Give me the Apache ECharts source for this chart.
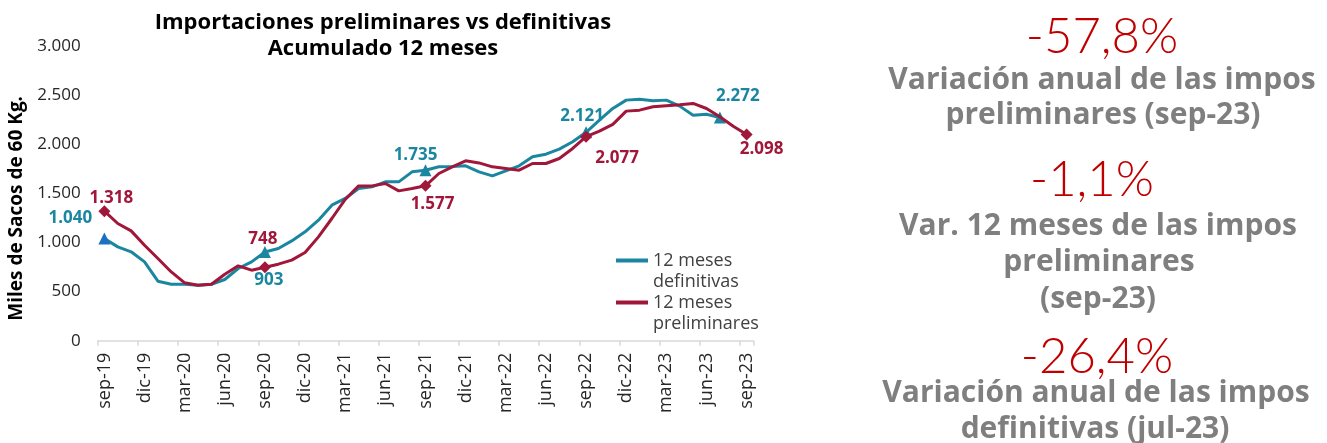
<!DOCTYPE html>
<html>
<head>
<meta charset="utf-8">
<script src="https://cdn.jsdelivr.net/npm/echarts@6/dist/echarts.min.js"></script>
<style>
html, body { margin: 0; padding: 0; background: #fff; }
#chart { width: 1327px; height: 443px; }
</style>
</head>
<body>
<div id="chart"></div>
<script>
var months = ['sep-19','oct-19','nov-19','dic-19','ene-20','feb-20','mar-20','abr-20','may-20','jun-20','jul-20','ago-20',
    'sep-20','oct-20','nov-20','dic-20','ene-21','feb-21','mar-21','abr-21','may-21','jun-21','jul-21','ago-21',
    'sep-21','oct-21','nov-21','dic-21','ene-22','feb-22','mar-22','abr-22','may-22','jun-22','jul-22','ago-22',
    'sep-22','oct-22','nov-22','dic-22','ene-23','feb-23','mar-23','abr-23','may-23','jun-23','jul-23','ago-23','sep-23'];

// 12 meses definitivas (hasta jul-23)
var definitivas = [1040, 955, 905, 802, 606, 575, 575, 565, 575, 623, 735, 802,
    903, 939, 1016, 1108, 1227, 1380, 1448, 1550, 1566, 1617, 1617, 1719,
    1735, 1770, 1773, 1780, 1719, 1678, 1729, 1780, 1872, 1899, 1950, 2025,
    2121, 2245, 2364, 2449, 2459, 2442, 2449, 2388, 2296, 2306, 2272];

// 12 meses preliminares
var preliminares = [1318, 1193, 1118, 972, 837, 700, 589, 565, 575, 677, 762, 718,
    748, 779, 820, 898, 1057, 1244, 1438, 1576, 1576, 1600, 1525, 1550,
    1577, 1702, 1770, 1831, 1810, 1770, 1753, 1736, 1804, 1804, 1855, 1957,
    2077, 2133, 2202, 2337, 2347, 2381, 2391, 2401, 2415, 2364, 2279, 2184, 2098];

// points that carry a marker and a value label
var defLabeled = [0, 12, 24, 36, 46];
var preLabeled = [0, 12, 24, 36, 48];

var tealColor = '#1a86a0';
var redColor = '#a0173a';

function fmt(v) {
    return String(v).replace(/\B(?=(\d{3})+(?!\d))/g, '.');
}

// label offsets (label centre relative to the point)
var defOffsets = { 0: [-34, -20], 12: [4, 28], 24: [-10, -15], 36: [-4, -16], 46: [18, -21] };
var preOffsets = { 0: [7, -13], 12: [-2, -28], 24: [7, 18], 36: [31, 21], 48: [15, 15] };

function buildData(values, labeled, offsets, symbol, color) {
    return values.map(function (v, i) {
        if (labeled.indexOf(i) < 0) return v;
        return {
            value: v,
            symbol: symbol,
            symbolSize: 12,
            itemStyle: { color: (i === 0 && symbol === 'triangle') ? '#1f6fc0' : color },
            label: {
                show: true,
                position: 'inside',
                offset: offsets[i],
                color: color,
                fontSize: 17,
                fontWeight: 'bold',
                fontFamily: 'Open Sans',
                formatter: function (p) { return fmt(p.value); }
            }
        };
    });
}

var chartDom = document.getElementById('chart');
var myChart = echarts.init(chartDom);

var grayText = '#7f7f7f';
var bigRed = '#c00000';
var grayFont = 'bold 30px "Open Sans"';
var redFont = '300 49px Lato';

// one legend per series; the leading blank line keeps the icon level with "12 meses"
function legendBox(name, top) {
    return {
        orient: 'vertical',
        left: 616,
        top: top,
        padding: 0,
        itemWidth: 32,
        itemHeight: 4,
        icon: 'rect',
        formatter: function (n) { return ' \n' + n.replace('meses ', 'meses\n'); },
        textStyle: { fontFamily: 'Open Sans', fontSize: 18, color: '#404040', lineHeight: 21 },
        data: [name]
    };
}

var option = {
    animation: false,
    title: {
        text: 'Importaciones preliminares vs definitivas\nAcumulado 12 meses',
        left: 378,
        top: 5,
        textAlign: 'center',
        textStyle: {
            fontFamily: 'Open Sans',
            fontSize: 22,
            fontWeight: 'bold',
            color: '#000',
            lineHeight: 26
        }
    },
    legend: [
        legendBox('12 meses definitivas', 229),
        legendBox('12 meses preliminares', 271)
    ],
    grid: {
        left: 97.7,
        right: 573.7,
        top: 46,
        bottom: 102.3
    },
    xAxis: {
        type: 'category',
        data: months,
        boundaryGap: true,
        axisLine: { lineStyle: { color: '#d9d9d9', width: 1.5 } },
        axisTick: { show: true, interval: 2, length: 5, lineStyle: { color: '#d9d9d9', width: 1.5 } },
        axisLabel: {
            interval: 2,
            rotate: 90,
            margin: 12,
            fontFamily: 'Open Sans',
            fontSize: 18,
            color: '#262626'
        }
    },
    yAxis: {
        type: 'value',
        min: 0,
        max: 3000,
        interval: 500,
        name: 'Miles de Sacos de 60 Kg.',
        nameLocation: 'middle',
        nameGap: 72,
        nameTextStyle: {
            fontFamily: 'Open Sans',
            fontSize: 19,
            fontWeight: 'bold',
            color: '#000',
            padding: [0, 30, 0, 0]
        },
        axisLine: { show: false },
        axisTick: { show: false },
        splitLine: { show: false },
        axisLabel: {
            margin: 17,
            fontFamily: 'Open Sans',
            fontSize: 17,
            color: '#262626',
            formatter: function (v) { return fmt(v); }
        }
    },
    series: [
        {
            name: '12 meses definitivas',
            type: 'line',
            symbol: 'none',
            showAllSymbol: true,
            color: tealColor,
            lineStyle: { color: tealColor, width: 3 },
            data: buildData(definitivas, defLabeled, defOffsets, 'triangle', tealColor),
            z: 3
        },
        {
            name: '12 meses preliminares',
            type: 'line',
            symbol: 'none',
            showAllSymbol: true,
            color: redColor,
            lineStyle: { color: redColor, width: 3 },
            data: buildData(preliminares, preLabeled, preOffsets, 'diamond', redColor),
            z: 4
        }
    ],
    graphic: [
        { type: 'text', x: 1102, y: 37, style: { text: '-57,8%', fill: bigRed, font: redFont, textAlign: 'center', textVerticalAlign: 'middle' } },
        { type: 'text', x: 1102, y: 80, style: { text: 'Variación anual de las impos', fill: grayText, font: grayFont, textAlign: 'center', textVerticalAlign: 'middle' } },
        { type: 'text', x: 1103, y: 115, style: { text: 'preliminares (sep-23)', fill: grayText, font: grayFont, textAlign: 'center', textVerticalAlign: 'middle' } },
        { type: 'text', x: 1092, y: 180, style: { text: '-1,1%', fill: bigRed, font: redFont, textAlign: 'center', textVerticalAlign: 'middle' } },
        { type: 'text', x: 1098, y: 226, style: { text: 'Var. 12 meses de las impos', fill: grayText, font: grayFont, textAlign: 'center', textVerticalAlign: 'middle' } },
        { type: 'text', x: 1099, y: 262, style: { text: 'preliminares', fill: grayText, font: grayFont, textAlign: 'center', textVerticalAlign: 'middle' } },
        { type: 'text', x: 1098, y: 299, style: { text: '(sep-23)', fill: grayText, font: grayFont, textAlign: 'center', textVerticalAlign: 'middle' } },
        { type: 'text', x: 1097, y: 357, style: { text: '-26,4%', fill: bigRed, font: redFont, textAlign: 'center', textVerticalAlign: 'middle' } },
        { type: 'text', x: 1096, y: 393, style: { text: 'Variación anual de las impos', fill: grayText, font: grayFont, textAlign: 'center', textVerticalAlign: 'middle' } },
        { type: 'text', x: 1095, y: 429, style: { text: 'definitivas (jul-23)', fill: grayText, font: grayFont, textAlign: 'center', textVerticalAlign: 'middle' } }
    ]
};

option && myChart.setOption(option);

window.addEventListener('resize', function () {
    myChart.resize();
});
</script>
</body>
</html>
